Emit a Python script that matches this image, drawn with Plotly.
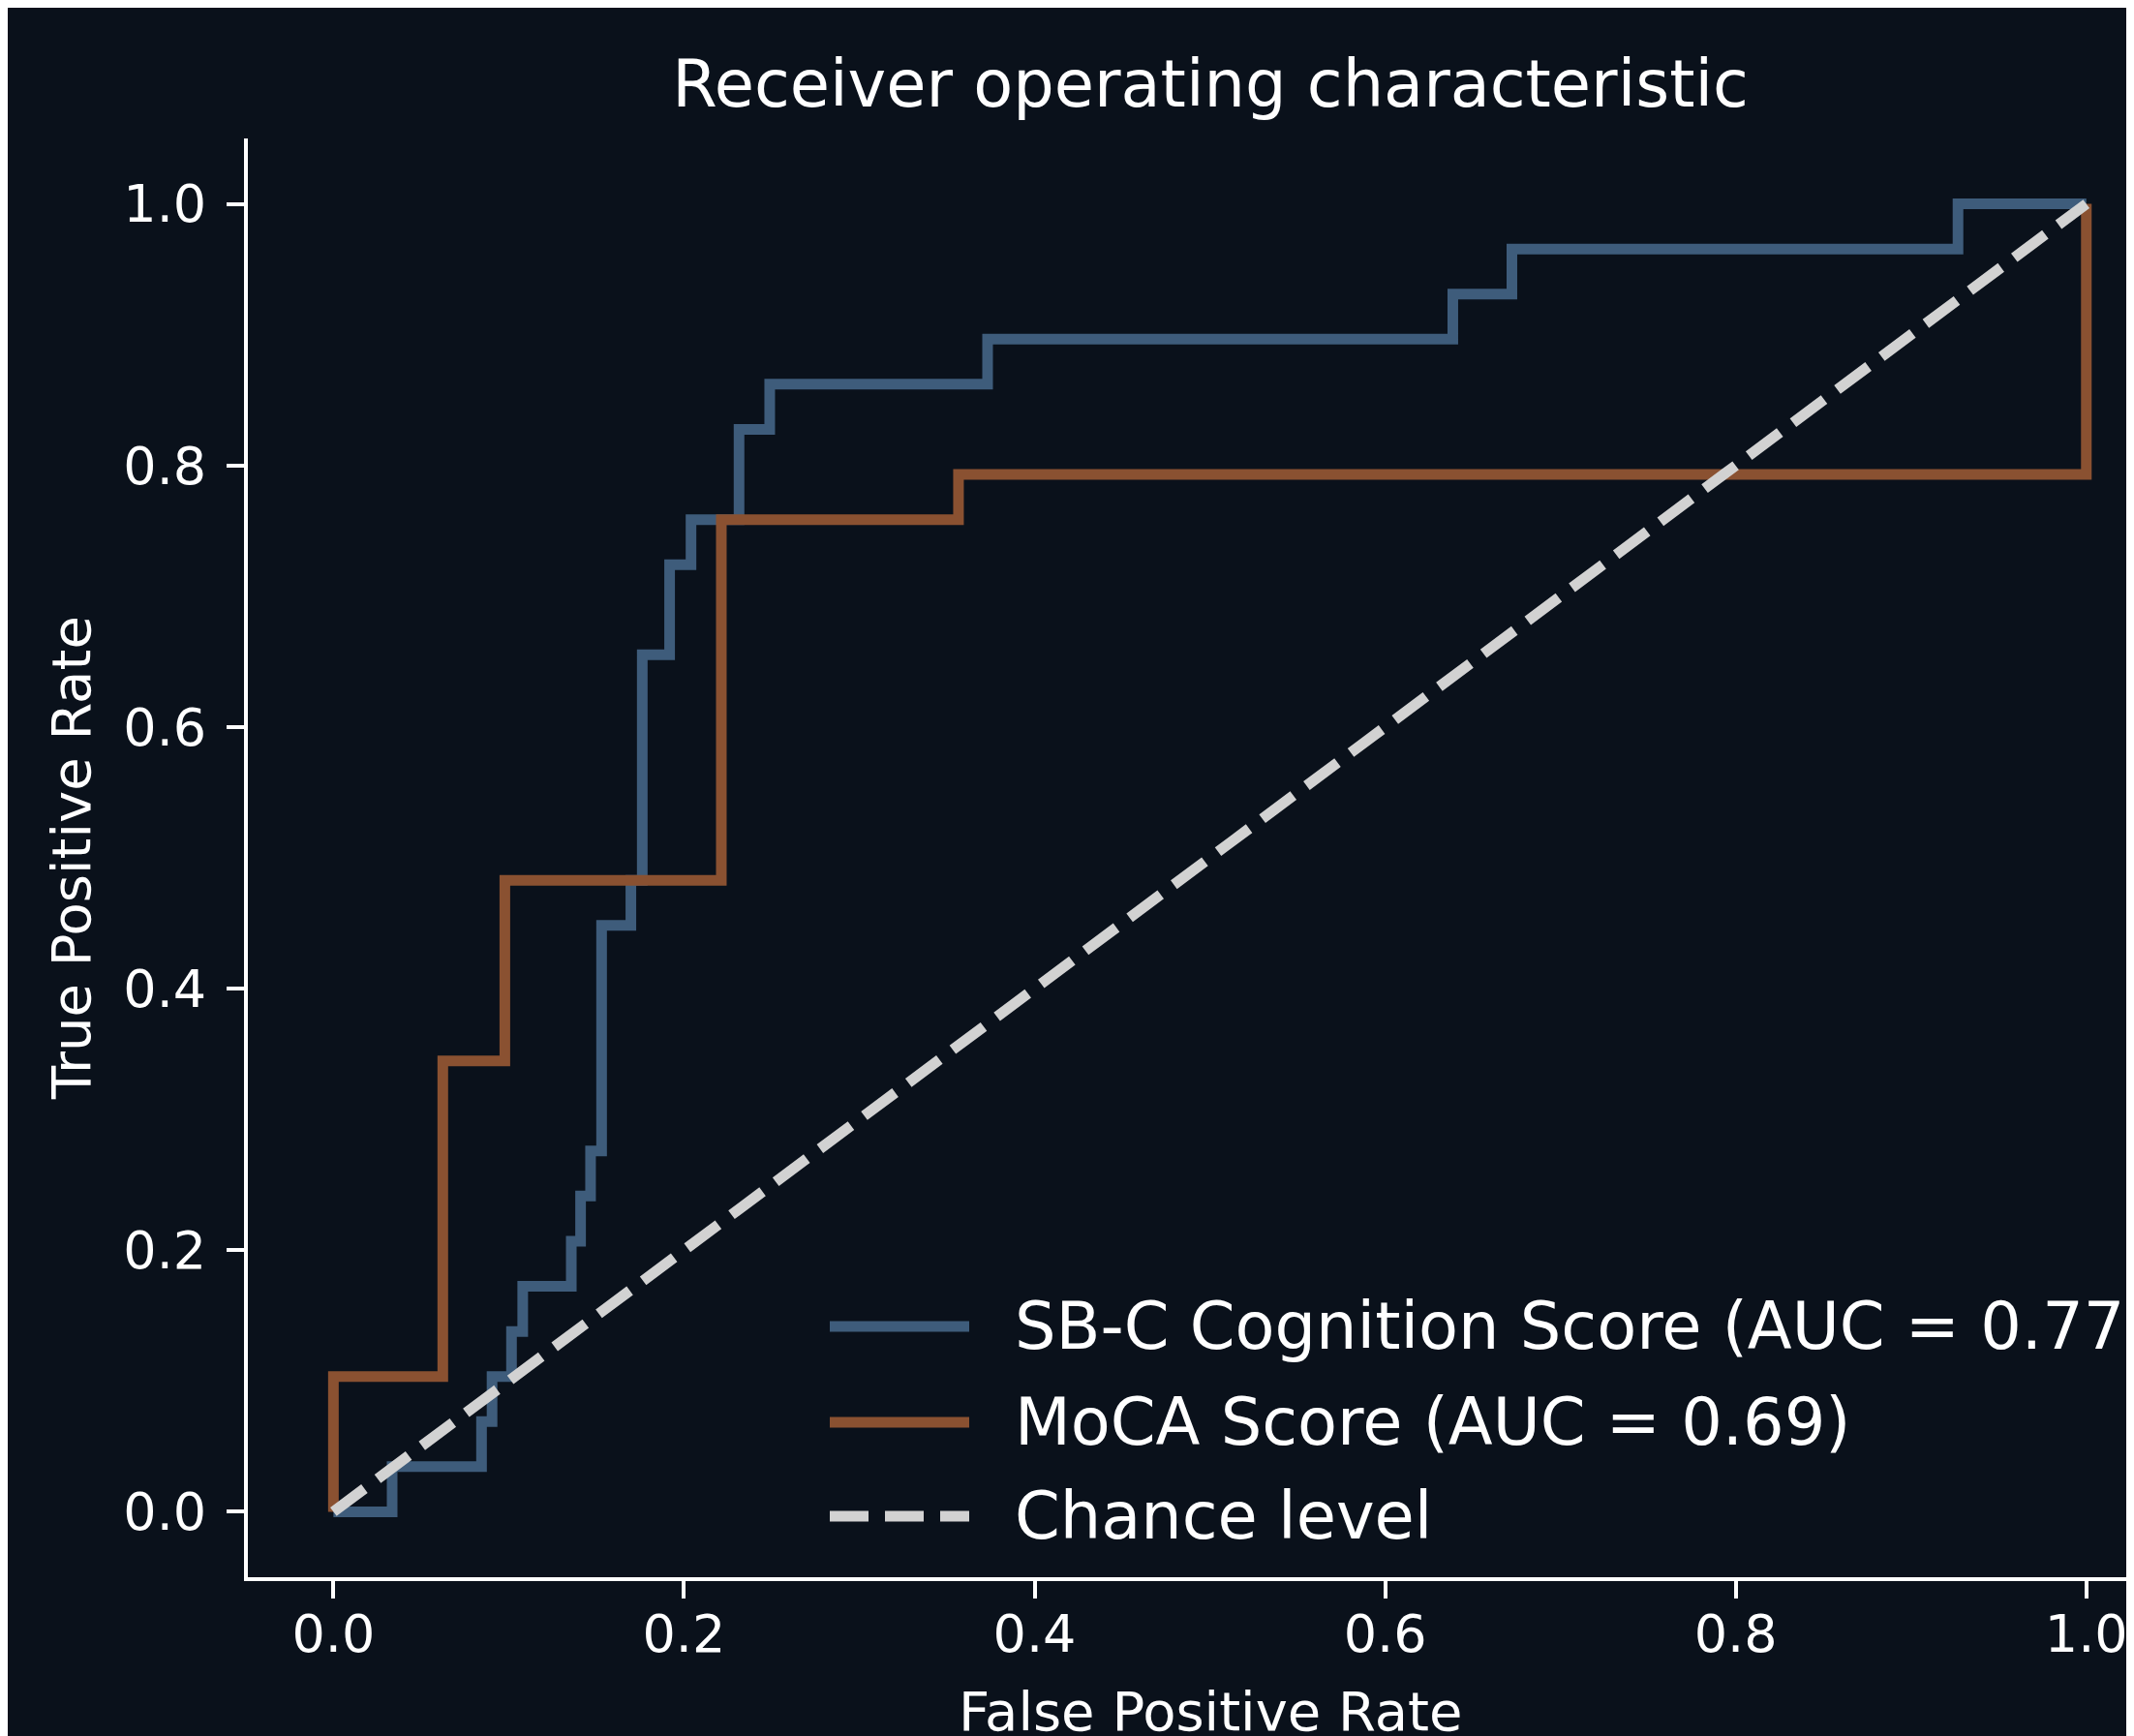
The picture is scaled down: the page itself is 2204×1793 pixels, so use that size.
import plotly.graph_objects as go

# ---------------- data ----------------
sbc_fpr = [0.0, 0.0335, 0.0335, 0.0845, 0.0845, 0.0905, 0.0905, 0.1016, 0.1016, 0.108, 0.108,
           0.1357, 0.1357, 0.141, 0.141, 0.1467, 0.1467, 0.153, 0.153, 0.1697, 0.1697, 0.1762,
           0.1762, 0.1918, 0.1918, 0.204, 0.204, 0.2314, 0.2314, 0.2489, 0.2489, 0.3732, 0.3732,
           0.6386, 0.6386, 0.6723, 0.6723, 0.9268, 0.9268, 1.0]
sbc_tpr = [0.0, 0.0, 0.0345, 0.0345, 0.069, 0.069, 0.1034, 0.1034, 0.1379, 0.1379, 0.1724,
           0.1724, 0.2069, 0.2069, 0.2414, 0.2414, 0.2759, 0.2759, 0.4483, 0.4483, 0.4828, 0.4828,
           0.6552, 0.6552, 0.7241, 0.7241, 0.7586, 0.7586, 0.8276, 0.8276, 0.8621, 0.8621, 0.8966,
           0.8966, 0.931, 0.931, 0.9655, 0.9655, 1.0, 1.0]

moca_fpr = [0.0, 0.0, 0.0624, 0.0624, 0.0978, 0.0978, 0.2213, 0.2213, 0.3566, 0.3566, 1.0, 1.0]
moca_tpr = [0.0, 0.1034, 0.1034, 0.3448, 0.3448, 0.4828, 0.4828, 0.7586, 0.7586, 0.7931, 0.7931, 1.0]

chance_x = [0.0, 1.0]
chance_y = [0.0, 1.0]

series_names = ["SB-C Cognition Score (AUC = 0.77)", "MoCA Score (AUC = 0.69)", "Chance level"]
tick_vals = [0.0, 0.2, 0.4, 0.6, 0.8, 1.0]
tick_text = ["0.0", "0.2", "0.4", "0.6", "0.8", "1.0"]

title_text = "Receiver operating characteristic"
x_title = "False Positive Rate"
y_title = "True Positive Rate"

# ---------------- style ----------------
BG = "#0a111b"
FG = "#ffffff"
C_BLUE = "#3e5c7b"
C_ORANGE = "#8a5131"
C_CHANCE = "#d2d2d2"
FONT = "DejaVu Sans"
LW = 11
DASH = "40px,17px"

OFF = 8  # page body margin of the html page
W, H = 2204 - OFF, 1793 - OFF
ML, MR, MT, MB = 256 - OFF, 0, 143 - OFF, 164
PW = W - ML - MR
PH = H - MT - MB

fig = go.Figure()
fig.add_trace(go.Scatter(x=sbc_fpr, y=sbc_tpr, mode="lines", name=series_names[0],
                         line=dict(color=C_BLUE, width=LW), showlegend=False))
fig.add_trace(go.Scatter(x=moca_fpr, y=moca_tpr, mode="lines", name=series_names[1],
                         line=dict(color=C_ORANGE, width=LW), showlegend=False))
fig.add_trace(go.Scatter(x=chance_x, y=chance_y, mode="lines", name=series_names[2],
                         line=dict(color=C_CHANCE, width=LW, dash=DASH), showlegend=False))

axis_common = dict(
    showgrid=False, zeroline=False, showline=True, linecolor=FG, linewidth=4,
    ticks="outside", ticklen=18, tickwidth=4, tickcolor=FG,
    tickvals=tick_vals, ticktext=tick_text,
    tickfont=dict(family=FONT, size=54, color=FG),
    mirror=False,
)

fig.update_xaxes(range=[-0.0488, 1.0272], ticklabelstandoff=-10, **axis_common)
fig.update_yaxes(range=[-0.05, 1.05], ticklabelstandoff=10, **axis_common)

# helpers: reference page pixel -> paper coordinate
def px_x(p):
    return (p - OFF - ML) / PW

def px_y(p):
    return (H - MB - (p - OFF)) / PH

annotations = [
    dict(text=x_title, x=0.5, xref="x", y=px_y(1767), yref="paper", showarrow=False,
         xanchor="center", yanchor="middle", font=dict(family=FONT, size=56, color=FG)),
    dict(text=y_title, x=px_x(73), xref="paper", y=0.5, yref="y", showarrow=False,
         textangle=-90, xanchor="center", yanchor="middle",
         font=dict(family=FONT, size=56, color=FG)),
]

# legend drawn in layout space (lower right, like the reference)
legend_rows_px = [1370, 1469, 1566]
legend_colors = [C_BLUE, C_ORANGE, C_CHANCE]
legend_dash = ["solid", "solid", DASH]
shapes = []
for name, ypx, col, dsh in zip(series_names, legend_rows_px, legend_colors, legend_dash):
    shapes.append(dict(type="line", xref="paper", yref="paper",
                       x0=px_x(857), x1=px_x(1001), y0=px_y(ypx), y1=px_y(ypx),
                       line=dict(color=col, width=LW, dash=dsh)))
    annotations.append(dict(text=name, x=px_x(1046), xref="paper", y=px_y(ypx), yref="paper",
                            showarrow=False, xanchor="left", yanchor="middle",
                            font=dict(family=FONT, size=67, color=FG)))

fig.update_layout(
    width=W, height=H,
    margin=dict(l=ML, r=MR, t=MT, b=MB, pad=0),
    paper_bgcolor=BG, plot_bgcolor=BG,
    template="none",
    showlegend=False,
    title=dict(text=title_text, x=px_x(1250), xref="paper", xanchor="center",
               y=1 - (87 - OFF) / H, yref="container", yanchor="middle",
               font=dict(family=FONT, size=67, color=FG)),
    annotations=annotations,
    shapes=shapes,
)

fig.write_html("out.html")
